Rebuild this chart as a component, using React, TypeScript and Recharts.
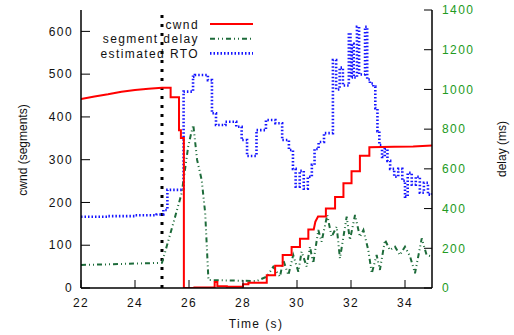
import React from 'react'
import { LineChart, Line, XAxis, YAxis, ReferenceLine } from 'recharts'

// ── Data (time in s, cwnd in segments, delay / RTO in ms) ─────────

// cwnd: smooth growth before the loss, then step changes (corners listed twice)
const cwndTime = [
  22, 22.5, 23, 23.5, 24, 24.5, 25,
  25.32, 25.32, 25.63, 25.63, 25.7, 25.7, 25.81, 25.81, 26.2, 26.2,
  26.95, 26.95, 27.05, 27.05, 27.4, 27.4, 28.0, 28.0, 28.2, 28.2,
  28.88, 28.88, 29.19, 29.19, 29.47, 29.47, 29.8, 29.8, 30.11, 30.11,
  30.42, 30.42, 30.62, 30.68, 30.78, 31.07, 31.07, 31.41, 31.41,
  31.72, 31.72, 32.02, 32.02, 32.33, 32.33, 32.68, 32.68, 33.6, 34.3, 35,
]
const cwndSegs = [
  442, 448, 453, 459, 463, 466, 468,
  468, 446, 446, 369, 369, 351, 351, 0, 0, 1,
  1, 14, 14, 4, 4, 3, 3, 9, 9, 12,
  12, 30, 30, 52, 52, 77, 77, 96, 96, 115,
  115, 137, 137, 155, 167, 167, 186, 186, 213,
  213, 245, 245, 273, 273, 309, 309, 329, 330, 331, 333,
]

const delayTime = [
  22, 23, 24, 25, 25.05, 25.42, 25.73, 25.97, 26.08, 26.16, 26.3, 26.47, 26.6,
  26.72, 27.5, 28.5, 28.88, 29.12, 29.37, 29.49, 29.68, 29.86, 30.05, 30.17,
  30.36, 30.48, 30.6, 30.79, 30.91, 31.12, 31.28, 31.47, 31.59, 31.84, 31.96,
  32.15, 32.33, 32.46, 32.64, 32.77, 32.95, 33.07, 33.26, 33.44, 33.63, 33.81,
  34.0, 34.19, 34.37, 34.62, 34.8, 35,
]
const delayMs = [
  116, 119, 123, 127, 150, 327, 478, 712, 779, 821, 645, 544, 377,
  40, 38, 35, 57, 107, 57, 141, 65, 166, 82, 183,
  107, 208, 124, 292, 233, 368, 258, 309, 149, 359, 242,
  368, 258, 292, 191, 74, 166, 91, 242, 191, 208, 166,
  208, 158, 74, 250, 166, 158,
]

const rtoTime = [
  22, 23, 24, 24.8, 25.05, 25.2, 25.8, 26.15, 26.22, 26.7, 26.85, 27.0, 27.35,
  27.75, 27.95, 28.15, 28.5, 28.85, 29.2, 29.45, 29.7, 29.85, 29.95, 30.1,
  30.25, 30.4, 30.55, 30.65, 30.8, 31.0, 31.33, 31.45, 31.58, 31.7, 31.92,
  31.98, 32.03, 32.1, 32.22, 32.3, 32.52, 32.6, 32.7, 32.83, 32.9, 32.98,
  33.05, 33.15, 33.25, 33.35, 33.45, 33.6, 33.75, 33.9, 34.0, 34.1, 34.25,
  34.4, 34.55, 34.7, 34.85, 35,
]
const rtoMs = [
  359, 362, 366, 370, 393, 494, 989, 1064, 1073, 1047, 880, 821, 837,
  812, 745, 665, 795, 846, 830, 745, 695, 600, 510, 590,
  500, 560, 620, 700, 735, 780, 1148, 1000, 1110, 1020, 1284,
  1060, 1230, 1060, 1316, 1075, 1316, 1050, 1030, 1014, 906, 790,
  720, 660, 700, 640, 600, 560, 600, 540, 460, 580, 520,
  560, 480, 530, 470, 480,
]

const timeTicks = [22, 24, 26, 28, 30, 32, 34]
const cwndTicks = [0, 100, 200, 300, 400, 500, 600]
const delayTicks = [0, 200, 400, 600, 800, 1000, 1200, 1400]
const lossTime = 25

const seriesNames = ['cwnd', 'segment delay', 'estimated RTO']

// ── Styling ───────────────────────────────────────────────────────

const FONT = '"Liberation Sans", Arial, Helvetica, sans-serif'
const RED = '#ff0000'
const GREEN = '#1d6b3a'
const BLUE = '#1414ff'
const AXIS_GREEN = '#229a22'

const seriesStyles = [
  { stroke: RED, strokeWidth: 2, dash: undefined },
  { stroke: GREEN, strokeWidth: 2, dash: '5 3 1 3 1 3' },
  { stroke: BLUE, strokeWidth: 2.6, dash: '1.5 2' },
]

const tickText = { fontSize: 12, fontFamily: FONT, fill: '#111', letterSpacing: 1.4 }
const frame = { stroke: '#000', strokeWidth: 1.5 }

const toPoints = (ts: number[], vs: number[]) => ts.map((t, i) => ({ t, v: vs[i] }))

const cwndData = toPoints(cwndTime, cwndSegs)
const delayData = toPoints(delayTime, delayMs)
const rtoData = toPoints(rtoTime, rtoMs)

// ── Overlay: key + axis titles ────────────────────────────────────

function Overlay() {
  return (
    <svg
      width={514}
      height={335}
      style={{ position: 'absolute', left: 0, top: 0, pointerEvents: 'none' }}
      fontFamily={FONT}
    >
      {seriesNames.map((name, i) => {
        const y = 24 + i * 14.7
        const s = seriesStyles[i]
        return (
          <g key={name}>
            <text x={199} y={y + 4.5} fontSize={12} letterSpacing={1.4} textAnchor="end" fill="#111">
              {name}
            </text>
            <line
              x1={210} x2={253} y1={y} y2={y}
              stroke={s.stroke} strokeWidth={s.strokeWidth} strokeDasharray={s.dash}
            />
          </g>
        )
      })}
      <text
        x={256} y={328} fontSize={12} letterSpacing={1.4} textAnchor="middle" fill="#111"
      >
        Time (s)
      </text>
      <text
        transform="translate(26.5 150) rotate(-90)" fontSize={12} textAnchor="middle" fill="#111"
      >
        cwnd (segments)
      </text>
      <text
        transform="translate(506 149) rotate(-90)" fontSize={12} textAnchor="middle" fill="#111"
      >
        delay (ms)
      </text>
    </svg>
  )
}

export default function App() {
  return (
    <div style={{ position: 'absolute', left: 0, top: 0, width: 514, height: 335, background: '#fff' }}>
      <LineChart
        width={514}
        height={335}
        margin={{ top: 10, right: 22, bottom: 17, left: 21 }}
      >
        <XAxis
          dataKey="t"
          type="number"
          domain={[22, 35]}
          ticks={timeTicks}
          allowDataOverflow
          height={30}
          tickSize={-8}
          tickMargin={18}
          tickLine={{ stroke: '#000' }}
          axisLine={frame}
          tick={tickText}
        />
        <XAxis
          xAxisId="top"
          orientation="top"
          type="number"
          domain={[22, 35]}
          ticks={timeTicks}
          allowDataOverflow
          height={0}
          tickSize={-8}
          tickLine={{ stroke: '#000' }}
          axisLine={frame}
          tickFormatter={() => ''}
        />
        <YAxis
          yAxisId="left"
          type="number"
          domain={[0, 650]}
          ticks={cwndTicks}
          allowDataOverflow
          width={60}
          tickSize={-9}
          tickMargin={17}
          tickLine={{ stroke: '#000' }}
          axisLine={frame}
          tick={tickText}
        />
        <YAxis
          yAxisId="mirror"
          orientation="right"
          type="number"
          domain={[0, 650]}
          ticks={cwndTicks}
          allowDataOverflow
          width={0}
          tickSize={-8}
          tickLine={{ stroke: '#444' }}
          axisLine={false}
          tickFormatter={() => ''}
        />
        <YAxis
          yAxisId="right"
          orientation="right"
          type="number"
          domain={[0, 1400]}
          ticks={delayTicks}
          allowDataOverflow
          width={60}
          tickSize={-8}
          tickMargin={18}
          tickLine={{ stroke: '#000' }}
          axisLine={frame}
          tick={{ ...tickText, fill: AXIS_GREEN }}
        />

        <ReferenceLine
          x={lossTime}
          yAxisId="left"
          stroke="#000"
          strokeWidth={3}
          strokeDasharray="3 6"
        />

        <Line
          data={rtoData}
          dataKey="v"
          yAxisId="right"
          type="stepAfter"
          stroke={BLUE}
          strokeWidth={2.6}
          strokeDasharray="1.5 2"
          dot={false}
          isAnimationActive={false}
        />
        <Line
          data={delayData}
          dataKey="v"
          yAxisId="right"
          type="linear"
          stroke={GREEN}
          strokeWidth={2}
          strokeDasharray="5 3 1 3 1 3"
          dot={false}
          isAnimationActive={false}
        />
        <Line
          data={cwndData}
          dataKey="v"
          yAxisId="left"
          type="linear"
          stroke={RED}
          strokeWidth={2}
          dot={false}
          isAnimationActive={false}
        />
      </LineChart>
      <Overlay />
    </div>
  )
}
